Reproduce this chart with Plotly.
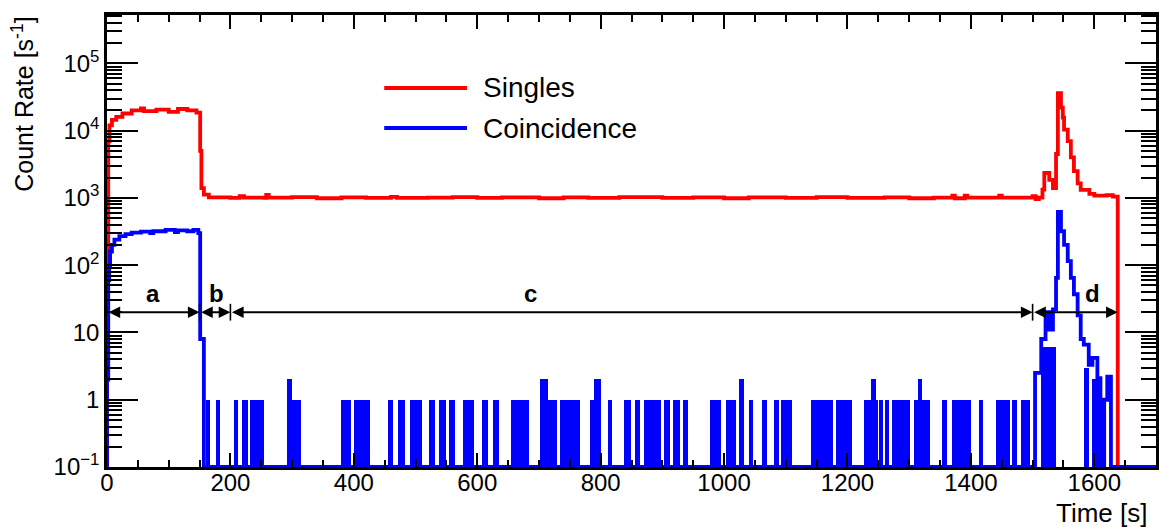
import numpy as np
import plotly.graph_objects as go

# ---------------- data ----------------
# Singles histogram: bin start time [s] and count rate [1/s] (step / HIST style)
singles_t = [0, 2, 4, 8, 15, 25, 40, 55, 60, 80, 100, 115, 130, 145, 151, 153, 157, 165,
             200, 215, 222, 255, 258, 262, 300, 340, 380, 420, 460, 470, 520, 560, 600,
             640, 700, 740, 780, 830, 900, 950, 1000, 1040, 1100, 1150, 1200, 1260, 1300,
             1340, 1370, 1374, 1390, 1394, 1446, 1450, 1500, 1505, 1510,
             1516, 1519, 1527, 1533, 1538, 1541, 1546, 1549, 1551, 1557, 1562, 1567, 1573,
             1578, 1592, 1600, 1620, 1630, 1638, 1700]
singles_v = [100, 7000, 12000, 14500, 16000, 18000, 20000, 21500, 19500, 20500, 19000, 21000,
             20000, 18500, 5000, 1400, 1120, 1020,
             1000, 1060, 1010, 1000, 1110, 1010, 1030, 990, 1020, 1000, 1040, 1000, 1010, 1030,
             1000, 1020, 990, 1020, 1000, 1030, 1000, 1020, 990, 1020, 1000, 1030, 1000, 1020,
             990, 1010, 1080, 990, 1080, 1010, 1080, 1010, 1060, 960, 1010,
             1330, 2350, 1860, 1400, 4500, 36000, 22000, 15600, 10400, 7000, 4000, 2500, 1650,
             1320, 1150, 1080, 1100, 1050, 0, 0]

# Coincidence histogram (main outline): bin start time [s] and rate [1/s]
coinc_t = [0, 2, 3.5, 5, 8, 12, 20, 30, 40, 55, 70, 75, 95, 110, 115, 130, 140, 148, 151, 157,
           1500, 1504, 1514, 1521, 1527, 1533, 1538, 1541, 1546, 1551, 1557, 1562, 1567, 1573,
           1578, 1583, 1591, 1597, 1605, 1610, 1616, 1621, 1627, 1700]
coinc_v = [2, 60, 95, 160, 200, 240, 270, 290, 305, 315, 300, 320, 335, 310, 330, 320, 335, 300,
           8, 0,
           0, 2.5, 8, 20, 11, 22, 65, 620, 320, 200, 115, 65, 37, 18,
           8, 6.6, 3.3, 4.2, 2.1, 0, 1, 2.2, 0, 0]

# Sparse coincidence background: runs of 1-s bins with counts (start, end, rate)
bg_start = [160, 176, 206, 218, 232, 292, 299, 307, 379, 401, 455, 472, 491, 522, 538, 554,
            577, 607, 625, 655, 702, 715, 734, 783, 790, 812, 838, 856, 871, 902, 917, 933,
            977, 1003, 1024, 1041, 1062, 1081, 1092, 1141, 1181, 1226, 1238, 1246, 1251, 1261,
            1272, 1308, 1315, 1321, 1353, 1370, 1413, 1440, 1467, 1482, 1514, 1583, 1597]
bg_end = [167, 183, 213, 229, 254, 299, 306, 315, 396, 427, 464, 483, 511, 531, 550, 564,
          594, 617, 636, 684, 715, 729, 766, 790, 800, 818, 849, 863, 897, 912, 928, 942,
          995, 1020, 1033, 1047, 1069, 1089, 1110, 1177, 1208, 1238, 1246, 1250, 1257, 1267,
          1301, 1315, 1321, 1333, 1361, 1400, 1420, 1463, 1475, 1495, 1538, 1591, 1610]
bg_rate = [1, 1, 1, 1, 1, 2, 1, 1, 1, 1, 1, 1, 1, 1, 1, 1,
           1, 1, 1, 1, 2, 1, 1, 1, 2, 1, 1, 1, 1, 1, 1, 1,
           1, 1, 2, 1, 1, 1, 1, 1, 1, 1, 2, 1, 1, 1,
           1, 1, 2, 1, 1, 1, 1, 1, 1, 1, 6, 3, 2]

# Measurement phases drawn as arrows
phase_edges = [0, 150, 200, 1500, 1638]
phase_names = ["a", "b", "c", "d"]
phase_label_x = [75, 178, 686, 1597]
phase_arrow_y = 20
phase_label_y = 38

x_tick_vals = [0, 200, 400, 600, 800, 1000, 1200, 1400, 1600]
x_tick_text = ["0", "200", "400", "600", "800", "1000", "1200", "1400", "1600"]
y_tick_vals = [0.1, 1, 10, 100, 1e3, 1e4, 1e5]
y_tick_text = ["10<sup>\u22121</sup>", "1", "10", "10<sup>2</sup>", "10<sup>3</sup>",
               "10<sup>4</sup>", "10<sup>5</sup>"]

# ---------------- layout constants ----------------
W, H = 1161, 527
ML, MR, MT, MB = 107, 2, 15, 60
PW, PH = W - ML - MR, H - MT - MB
Y_FLOOR = 0.1
FONT = "Liberation Sans, Arial, Helvetica, sans-serif"
RED, BLUE = "#ff0000", "#0000ff"
LW = 3.8


def px2paper_x(px):
    return (px - ML) / PW


def px2paper_y(py):
    return (H - MB - py) / PH


def floor(vals):
    return [v if v > 0 else Y_FLOOR for v in vals]


fig = go.Figure()

# background coincidence runs (filled)
bs = np.array(bg_start, float)
be = np.array(bg_end, float)
fig.add_trace(go.Bar(x=(bs + be) / 2, y=bg_rate, width=be - bs, marker=dict(color=BLUE, line=dict(width=0)),
                     showlegend=False, hoverinfo="skip"))

fig.add_trace(go.Scatter(x=[0] + singles_t, y=[Y_FLOOR] + floor(singles_v), mode="lines",
                         line=dict(color=RED, width=LW, shape="hv"), name="Singles"))
fig.add_trace(go.Scatter(x=[0] + coinc_t, y=[Y_FLOOR] + floor(coinc_v), mode="lines",
                         line=dict(color=BLUE, width=LW, shape="hv"), name="Coincidence"))

# phase arrows
ly = np.log10(phase_arrow_y)
for s, e in zip(phase_edges[:-1], phase_edges[1:]):
    fig.add_annotation(x=e, y=ly, ax=s, ay=ly, xref="x", yref="y", axref="x", ayref="y",
                       text="", showarrow=True, arrowside="end+start", arrowhead=2,
                       arrowsize=1.3, arrowwidth=1.8, arrowcolor="black", standoff=0, startstandoff=0)
fig.add_trace(go.Scatter(x=phase_edges[1:-1], y=[phase_arrow_y] * (len(phase_edges) - 2), mode="markers",
                         marker=dict(symbol="line-ns", size=12, line=dict(color="black", width=1.6)),
                         showlegend=False, hoverinfo="skip"))
for name, xl in zip(phase_names, phase_label_x):
    fig.add_annotation(x=xl, y=np.log10(phase_label_y), xref="x", yref="y", text="<b>%s</b>" % name,
                       showarrow=False, font=dict(size=24, color="black", family=FONT))

# legend (ROOT style, drawn manually)
for col, ypx, label in [(RED, 88, "Singles"), (BLUE, 128, "Coincidence")]:
    fig.add_shape(type="line", xref="paper", yref="paper", x0=px2paper_x(385), x1=px2paper_x(468),
                  y0=px2paper_y(ypx), y1=px2paper_y(ypx), line=dict(color=col, width=LW))
    fig.add_annotation(xref="paper", yref="paper", x=px2paper_x(482), y=px2paper_y(ypx), text=label,
                       showarrow=False, xanchor="left", yanchor="middle",
                       font=dict(size=28, color="black", family=FONT))

# axis titles
fig.add_annotation(xref="paper", yref="paper", x=px2paper_x(22), y=1.0, text="Count Rate [s<sup>-1</sup>]",
                   textangle=-90, showarrow=False, xanchor="center", yanchor="top",
                   font=dict(size=25, color="black", family=FONT))
fig.add_annotation(xref="paper", yref="paper", x=px2paper_x(1152), y=px2paper_y(513), text="Time [s]",
                   showarrow=False, xanchor="right", yanchor="middle",
                   font=dict(size=26, color="black", family=FONT))

y_minor = [m * 10.0 ** d for d in range(-1, 6) for m in range(2, 10)]

fig.update_layout(
    width=W, height=H, autosize=False,
    margin=dict(l=ML, r=MR, t=MT, b=MB),
    paper_bgcolor="white", plot_bgcolor="white",
    showlegend=False, bargap=0,
    font=dict(family=FONT, color="black", size=24),
    xaxis=dict(range=[0, 1700], showgrid=False, zeroline=False, showline=True, linecolor="black",
               linewidth=2.5, mirror="allticks", ticks="inside", ticklen=14, tickwidth=2,
               tickcolor="black", tickmode="array", tickvals=x_tick_vals, ticktext=x_tick_text,
               tickfont=dict(size=24, family=FONT, color="black"), ticklabelstandoff=-8,
               minor=dict(ticks="inside", ticklen=7, tickwidth=1.5, tickcolor="black", dtick=50, showgrid=False)),
    yaxis=dict(type="log", range=[-1, 5.72], showgrid=False, zeroline=False, showline=True,
               linecolor="black", linewidth=2.5, mirror="allticks", ticks="inside", ticklen=31,
               tickwidth=2, tickcolor="black", tickmode="array", tickvals=y_tick_vals,
               ticktext=y_tick_text, tickfont=dict(size=24, family=FONT, color="black"),
               minor=dict(ticks="inside", ticklen=15, tickwidth=1.5, tickcolor="black",
                          tickmode="array", tickvals=y_minor, showgrid=False)),
)

fig.write_html("out.html")
